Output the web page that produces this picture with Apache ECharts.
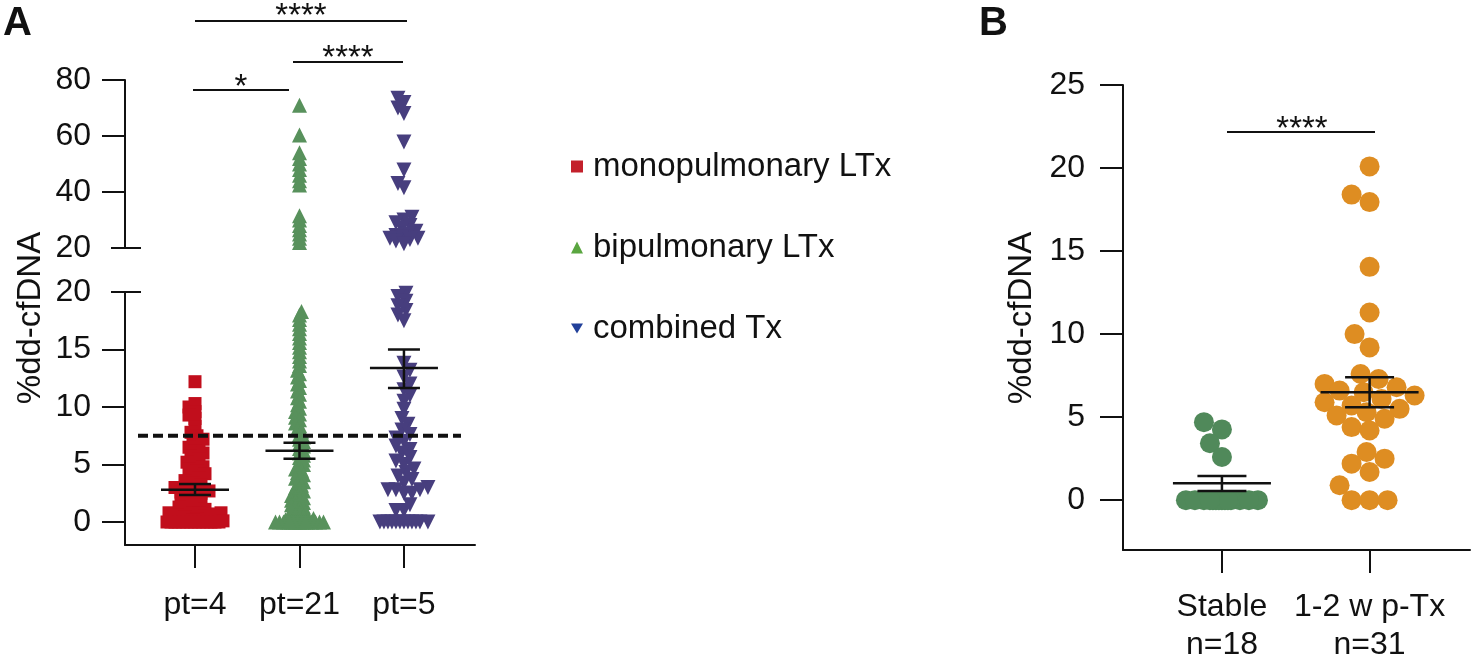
<!DOCTYPE html>
<html>
<head>
<meta charset="utf-8">
<script src="https://cdn.jsdelivr.net/npm/echarts@6/dist/echarts.min.js"></script>
<style>
html,body{margin:0;padding:0;background:#fff;}
#chart{width:1477px;height:658px;}
</style>
</head>
<body>
<div id="chart"></div>
<script>
// ---------------- DATA ----------------
const seriesNamesA = ['monopulmonary LTx', 'bipulmonary LTx', 'combined Tx'];
const categoriesA = ['pt=4', 'pt=21', 'pt=5'];
const categoriesB = ['Stable\nn=18', '1-2 w p-Tx\nn=31'];
const yTicksALower = [0, 5, 10, 15, 20];
const yTicksAUpper = [20, 40, 60, 80];
const yTicksB = [0, 5, 10, 15, 20, 25];

const monoValues = [12.2, 10.3, 10.0, 9.6, 9.3, 9.0, 8.3, 7.8, 7.5, 7.2, 7.0, 6.7, 6.5, 6.2,
  6.0, 5.7, 5.5, 5.2, 5.0, 4.8, 4.6, 4.4, 4.2, 4.0, 3.8, 3.6, 3.4,
  3.2, 3.0, 2.9, 2.8, 2.7, 2.6, 2.5, 2.3, 2.2, 2.0, 1.8, 1.6, 1.5, 1.3,
  1.1, 1.0, 0.8, 0.8, 0.8, 0.8, 0.7, 0.6, 0.5, 0.4, 0.3, 0.2, 0.1,
  0, 0, 0, 0, 0, 0, 0, 0, 0, 0, 0, 0, 0, 0];
const biValues = [71, 60.4, 54, 52, 50, 48, 46, 44, 42.5, 31.5, 30, 28, 26.5, 25, 23.5, 22,
  18.3, 18.0, 17.6, 17.2, 16.8, 16.4, 16.0, 15.6, 15.2, 14.8, 14.4, 14.0, 13.6, 13.2, 12.9, 12.6, 12.3,
  12.0, 11.7, 11.4, 11.1, 10.8, 10.5, 10.2, 9.9, 9.6, 9.4, 9.1, 8.9, 8.6, 8.4, 8.1, 7.9, 7.6, 7.4, 7.2,
  7.0, 6.8, 6.6, 6.4, 6.2, 6.0, 5.8, 5.6, 5.4, 5.2, 5.0, 4.8, 4.6, 4.5, 4.3, 4.1, 4.0, 3.8, 3.6, 3.5,
  3.3, 3.2, 3.0, 2.9, 2.7, 2.6, 2.5, 2.3, 2.2, 2.1, 2.0, 1.9, 1.8, 1.7, 1.6, 1.5, 1.4, 1.3,
  1.2, 1.0, 1.0, 0.8, 0.8, 0.6, 0.5, 0.4, 0.3, 0.2, 0.1,
  0, 0, 0, 0, 0, 0, 0, 0, 0, 0, 0, 0, 0, 0, 0, 0, 0, 0];
const combValues = [73.5, 72, 70, 68, 57.9, 47.9, 43, 41.5, 31, 30, 29, 28, 27, 26, 25, 24.5, 24, 23.5, 23.5,
  23, 22.5, 21.5,
  19.9, 19.6, 19.2, 18.8, 18.4, 18.0, 17.5, 13.8, 13.2, 12.6, 12.0, 11.5, 11.0, 10.5, 9.8, 9.0, 8.5, 8.0,
  7.6, 7.3, 7.0, 6.6, 6.3, 6.0, 5.6, 5.3, 5.0, 4.6, 4.3, 4.0, 3.7, 3.4, 3.0, 2.8, 2.8, 2.8, 2.5, 2.5,
  1.5, 1.0, 1.0, 0, 0, 0, 0, 0, 0, 0, 0, 0, 0, 0, 0];
const stableValues = [4.7, 4.26, 3.43, 2.6, 0, 0, 0, 0, 0, 0, 0, 0, 0, 0, 0, 0, 0, 0];
const earlyValues = [20.1, 18.4, 17.95, 14.05, 11.3, 10.0, 9.2, 7.6, 7.3, 7.0, 6.8, 6.6, 6.5, 6.3, 6.1,
  5.9, 5.7, 5.5, 5.3, 5.1, 4.9, 4.4, 4.2, 2.9, 2.5, 2.2, 1.7, 0.9, 0, 0, 0];

const meanA = [2.8, 6.2, 13.4];
const semLowA = [2.35, 5.5, 11.65];
const semHighA = [3.3, 6.9, 15.0];
const meanB = [1.02, 6.5];
const semLowB = [0.55, 5.6];
const semHighB = [1.45, 7.4];
const cutoff = 7.5;
const breakValue = 20;

// ---------------- STYLE / LAYOUT ----------------
const FONT = "'Liberation Sans', Arial, Helvetica, sans-serif";
const INK = '#111';
const FS = 32;
const colA = ['#c10e1c', '#58915c', '#473e7e'];
const colLegend = ['#c3202b', '#5aa640', '#22409a'];
const colB = ['#50895a', '#de8d22'];

const gA0 = {left: 125, top: 292, width: 350, height: 253};
const gA1 = {left: 125, top: 80, width: 350, height: 168};
const gB = {left: 1123, top: 85, width: 347, height: 465};
const xA = [0.33, 3.68], yA0 = [-2, 20], yA1 = [20, 80];
const xB = [0.33, 2.68], yB = [-3, 25];

const pxA_x = gA0.width / (xA[1] - xA[0]);
const pxB_x = gB.width / (xB[1] - xB[0]);
const pxA0_y = gA0.height / (yA0[1] - yA0[0]);
const pxA1_y = gA1.height / (yA1[1] - yA1[0]);
const pxB_y = gB.height / (yB[1] - yB[0]);

// beeswarm offsets (pixels) computed from values
function swarm(vals, pxPerUnit, d, step, maxHalf) {
  const idx = vals.map((v, i) => i).sort((a, b) => vals[a] - vals[b]);
  const placed = [];
  const offs = new Array(vals.length);
  const cands = [0];
  for (let k = 1; k * step <= maxHalf; k++) cands.push(k * step, -k * step);
  let n = 0;
  for (const i of idx) {
    const y = vals[i] * pxPerUnit;
    const sgn = (n % 2) ? -1 : 1;
    let best = 0, bestD = -1;
    for (const c0 of cands) {
      const c = c0 * sgn;
      let md = Infinity;
      for (const p of placed) {
        const dy = p.y - y;
        if (Math.abs(dy) >= d) continue;
        const dist = Math.hypot(p.x - c, dy);
        if (dist < md) md = dist;
      }
      if (md >= d) { best = c; bestD = md; break; }
      if (md > bestD) { bestD = md; best = c; }
    }
    offs[i] = best;
    placed.push({x: best, y});
    n++;
  }
  return offs;
}

function points(vals, center, pxX, pxY, d, step, maxHalf) {
  const offs = swarm(vals, pxY, d, step, maxHalf);
  return vals.map((v, i) => [center + offs[i] / pxX, v]);
}

const groupsA = [monoValues, biValues, combValues];
const swarmParamsA = [
  {lo: [6.5, 2, 28], hi: [6, 2, 12]},
  {lo: [3.5, 2, 26], hi: [4, 2, 10]},
  {lo: [8, 2, 28], hi: [7, 2, 14]}
];
const symbolsA = [
  {symbol: 'rect', size: 13, rotate: 0},
  {symbol: 'triangle', size: 15, rotate: 0},
  {symbol: 'triangle', size: 15, rotate: 180}
];

const series = [];
groupsA.forEach((vals, g) => {
  const low = vals.filter(v => v <= breakValue);
  const high = vals.filter(v => v > breakValue);
  const p = swarmParamsA[g];
  const common = {
    type: 'scatter', name: seriesNamesA[g],
    symbol: symbolsA[g].symbol, symbolSize: symbolsA[g].size, symbolRotate: symbolsA[g].rotate,
    itemStyle: {color: colA[g], opacity: 1}, z: 2, silent: true
  };
  series.push(Object.assign({}, common, {
    xAxisIndex: 0, yAxisIndex: 0,
    data: points(low, g + 1, pxA_x, pxA0_y, p.lo[0], p.lo[1], p.lo[2])
  }));
  if (high.length) series.push(Object.assign({}, common, {
    xAxisIndex: 1, yAxisIndex: 1,
    data: points(high, g + 1, pxA_x, pxA1_y, p.hi[0], p.hi[1], p.hi[2])
  }));
});
[stableValues, earlyValues].forEach((vals, g) => {
  series.push({
    type: 'scatter', name: categoriesB[g], xAxisIndex: 2, yAxisIndex: 2,
    symbol: 'circle', symbolSize: 20, itemStyle: {color: colB[g], opacity: 1}, z: 2, silent: true,
    data: points(vals, g + 1, pxB_x, pxB_y, 18, 3, g === 0 ? 39 : 45)
  });
});

function meanRender(halfW, capHalf) {
  return function (params, api) {
    const x = api.value(0);
    const pm = api.coord([x, api.value(1)]);
    const pl = api.coord([x, api.value(2)]);
    const ph = api.coord([x, api.value(3)]);
    const st = {stroke: INK, lineWidth: 2.5};
    return {type: 'group', children: [
      {type: 'line', shape: {x1: pm[0] - halfW, y1: pm[1], x2: pm[0] + halfW, y2: pm[1]}, style: st},
      {type: 'line', shape: {x1: pm[0], y1: pl[1], x2: pm[0], y2: ph[1]}, style: st},
      {type: 'line', shape: {x1: pm[0] - capHalf, y1: pl[1], x2: pm[0] + capHalf, y2: pl[1]}, style: st},
      {type: 'line', shape: {x1: pm[0] - capHalf, y1: ph[1], x2: pm[0] + capHalf, y2: ph[1]}, style: st}
    ]};
  };
}
series.push({
  type: 'custom', xAxisIndex: 0, yAxisIndex: 0, z: 5, silent: true,
  renderItem: meanRender(34, 16), encode: {x: 0, y: 1},
  data: meanA.map((m, i) => [i + 1, m, semLowA[i], semHighA[i]])
});
series.push({
  type: 'custom', xAxisIndex: 2, yAxisIndex: 2, z: 5, silent: true,
  renderItem: meanRender(49, 24.5), encode: {x: 0, y: 1},
  data: meanB.map((m, i) => [i + 1, m, semLowB[i], semHighB[i]])
});
// dashed cut-off line
series.push({
  type: 'custom', xAxisIndex: 0, yAxisIndex: 0, z: 6, silent: true, clip: false,
  encode: {x: 0, y: 1},
  renderItem: function (params, api) {
    const p = api.coord([api.value(0), api.value(1)]);
    return {type: 'line', shape: {x1: 138, y1: p[1], x2: 461, y2: p[1]},
      style: {stroke: INK, lineWidth: 4, lineDash: [10, 5]}};
  },
  data: [[2, cutoff]]
});

const axisLabelStyle = {fontSize: FS, color: INK, fontFamily: FONT};
const lineSt = {color: INK, width: 2};

const option = {
  animation: false,
  backgroundColor: '#fff',
  textStyle: {fontFamily: FONT},
  grid: [
    Object.assign({containLabel: false, outerBoundsMode: 'none'}, gA0),
    Object.assign({containLabel: false, outerBoundsMode: 'none'}, gA1),
    Object.assign({containLabel: false, outerBoundsMode: 'none'}, gB)
  ],
  xAxis: [
    {gridIndex: 0, type: 'value', min: xA[0], max: xA[1],
      axisLine: {onZero: false, lineStyle: lineSt},
      axisTick: {customValues: [1, 2, 3], length: 23, lineStyle: lineSt},
      axisLabel: Object.assign({customValues: [1, 2, 3], margin: 44,
        formatter: v => categoriesA[Math.round(v) - 1]}, axisLabelStyle),
      splitLine: {show: false}},
    {gridIndex: 1, type: 'value', min: xA[0], max: xA[1], show: false, splitLine: {show: false}},
    {gridIndex: 2, type: 'value', min: xB[0], max: xB[1],
      axisLine: {onZero: false, lineStyle: lineSt},
      axisTick: {customValues: [1, 2], length: 23, lineStyle: lineSt},
      axisLabel: Object.assign({customValues: [1, 2], margin: 38, lineHeight: 38,
        formatter: v => categoriesB[Math.round(v) - 1]}, axisLabelStyle),
      splitLine: {show: false}}
  ],
  yAxis: [
    {gridIndex: 0, type: 'value', min: yA0[0], max: yA0[1],
      axisLine: {show: true, onZero: false, lineStyle: lineSt},
      axisTick: {show: true, customValues: [0, 5, 10, 15], length: 23, lineStyle: lineSt},
      axisLabel: Object.assign({customValues: yTicksALower, margin: 34}, axisLabelStyle),
      splitLine: {show: false}},
    {gridIndex: 1, type: 'value', min: yA1[0], max: yA1[1],
      axisLine: {show: true, onZero: false, lineStyle: lineSt},
      axisTick: {show: true, customValues: [40, 60, 80], length: 23, lineStyle: lineSt},
      axisLabel: Object.assign({customValues: yTicksAUpper, margin: 34}, axisLabelStyle),
      splitLine: {show: false}},
    {gridIndex: 2, type: 'value', min: yB[0], max: yB[1],
      axisLine: {show: true, onZero: false, lineStyle: lineSt},
      axisTick: {show: true, customValues: yTicksB, length: 23, lineStyle: lineSt},
      axisLabel: Object.assign({customValues: yTicksB, margin: 38}, axisLabelStyle),
      splitLine: {show: false}}
  ],
  legend: {
    orient: 'vertical', left: 566, top: 145, itemGap: 48, itemWidth: 12, itemHeight: 12,
    selectedMode: false,
    textStyle: {fontSize: 33, color: INK, fontFamily: FONT, padding: [0, 0, 0, 5]},
    data: [
      {name: seriesNamesA[0], icon: 'rect', itemStyle: {color: colLegend[0]}},
      {name: seriesNamesA[1], icon: 'triangle', itemStyle: {color: colLegend[1]}},
      {name: seriesNamesA[2], icon: 'path://M0,0L12,0L6,10Z', itemStyle: {color: colLegend[2]}}
    ]
  },
  series: series
};

const chart = echarts.init(document.getElementById('chart'), null, {renderer: 'canvas'});
chart.setOption(option);

// annotations (panel letters, axis titles, axis breaks, significance brackets)
const lst = {stroke: INK, lineWidth: 2};
function txt(x, y, text, size, opts) {
  return Object.assign({type: 'text', x: x, y: y, silent: true,
    style: Object.assign({text: text, fill: INK, font: size + 'px ' + FONT, align: 'center', verticalAlign: 'middle'}, opts || {})});
}
const yBreakLow = chart.convertToPixel({yAxisIndex: 0}, breakValue);
const yBreakHigh = chart.convertToPixel({yAxisIndex: 1}, breakValue);
chart.setOption({
  graphic: [
    txt(3, 24, 'A', 40, {align: 'left', font: 'bold 40px ' + FONT}),
    txt(979, 24, 'B', 40, {align: 'left', font: 'bold 40px ' + FONT}),
    Object.assign(txt(31, 318, '%dd-cfDNA', 33), {rotation: Math.PI / 2}),
    Object.assign(txt(1022, 318, '%dd-cfDNA', 33), {rotation: Math.PI / 2}),
    {type: 'line', silent: true, shape: {x1: 111, y1: yBreakLow, x2: 141, y2: yBreakLow}, style: lst},
    {type: 'line', silent: true, shape: {x1: 111, y1: yBreakHigh, x2: 141, y2: yBreakHigh}, style: lst},
    {type: 'line', silent: true, shape: {x1: 193, y1: 90, x2: 289, y2: 90}, style: lst},
    txt(241, 88, '*', 33),
    {type: 'line', silent: true, shape: {x1: 293, y1: 62, x2: 403, y2: 62}, style: lst},
    txt(348, 59, '****', 33),
    {type: 'line', silent: true, shape: {x1: 195, y1: 21, x2: 407, y2: 21}, style: lst},
    txt(301, 17, '****', 33),
    {type: 'line', silent: true, shape: {x1: 1227, y1: 132, x2: 1375, y2: 132}, style: lst},
    txt(1302, 130, '****', 33)
  ]
});
</script>
</body>
</html>
